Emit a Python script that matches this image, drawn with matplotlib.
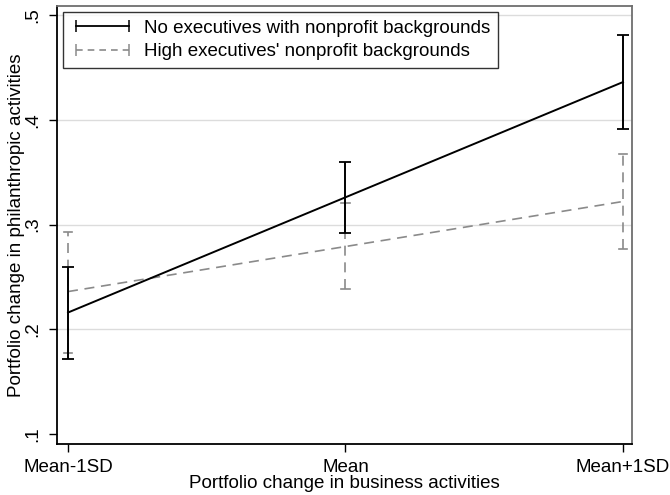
import numpy as np
import matplotlib
matplotlib.use('Agg')
import matplotlib.pyplot as plt
from matplotlib.lines import Line2D

plt.rcParams['font.family'] = ['Liberation Sans', 'DejaVu Sans']

# x categories
x_labels = ['Mean-1SD', 'Mean', 'Mean+1SD']
x_pos = [0, 1, 2]

# No executives with nonprofit backgrounds
none_mid = [0.216, 0.326, 0.436]
none_lo = [0.172, 0.292, 0.391]
none_hi = [0.259, 0.360, 0.481]

# High executives' nonprofit backgrounds
high_mid = [0.236, 0.279, 0.322]
high_lo = [0.177, 0.238, 0.277]
high_hi = [0.293, 0.321, 0.367]

y_ticks = [0.1, 0.2, 0.3, 0.4, 0.5]
y_tick_labels = ['.1', '.2', '.3', '.4', '.5']

gray = '#8a8a8a'

fig = plt.figure(figsize=(6.7, 4.95), dpi=100)
ax = fig.add_axes([57/670, 51/495, 575/670, 438/495])

# gridlines
for yv in y_ticks[1:]:
    ax.axhline(yv, color='#dcdcdc', lw=1.0, zorder=0)

# dashed series (drawn first, beneath)
ax.plot(x_pos, high_mid, color=gray, lw=1.2, dashes=(6, 4), zorder=2)
for x, lo, hi in zip(x_pos, high_lo, high_hi):
    ax.plot([x, x], [lo, hi], color=gray, lw=1.2, dashes=(6, 4), zorder=2)
    ax.plot([x - 0.016, x + 0.016], [lo, lo], color=gray, lw=1.2, zorder=2)
    ax.plot([x - 0.016, x + 0.016], [hi, hi], color=gray, lw=1.2, zorder=2)

# solid series
ax.plot(x_pos, none_mid, color='black', lw=1.4, zorder=3)
ax.errorbar(x_pos, none_mid, yerr=[np.array(none_mid) - np.array(none_lo),
                                   np.array(none_hi) - np.array(none_mid)],
            fmt='none', ecolor='black', elinewidth=1.4, capsize=4.5, capthick=1.3, zorder=3)

ax.set_xlim(-0.0397, 2.0325)
ax.set_ylim(0.0905, 0.5086)
ax.set_xticks(x_pos)
ax.set_xticklabels(x_labels, fontsize=13.5)
ax.set_yticks(y_ticks)
ax.set_yticklabels(y_tick_labels, fontsize=13.5, rotation=90, va='center')
ax.tick_params(axis='both', direction='out', length=6, width=1, color='black')
ax.tick_params(axis='y', pad=5)
ax.tick_params(axis='x', pad=5)

for s in ['left', 'bottom']:
    ax.spines[s].set_color('black')
    ax.spines[s].set_linewidth(1.3)
for s in ['top', 'right']:
    ax.spines[s].set_color('#6e6e6e')
    ax.spines[s].set_linewidth(1.3)

ax.set_xlabel('Portfolio change in business activities', fontsize=13.5, labelpad=-1)
ax.set_ylabel('Portfolio change in philanthropic activities', fontsize=13.5, labelpad=0)

handles = [
    Line2D([0], [0], color='black', lw=1.3, marker='|', markersize=8, markeredgewidth=1.1),
    Line2D([0], [0], color=gray, lw=1.2, dashes=(4, 3), marker='|', markersize=8,
           markeredgewidth=1.1),
]
leg = ax.legend(handles, ['No executives with nonprofit backgrounds',
                          "High executives' nonprofit backgrounds"],
                loc='upper left', bbox_to_anchor=(0.011, 0.986), numpoints=2,
                fontsize=13.5, frameon=True, fancybox=False, edgecolor='black',
                handlelength=3.4, handletextpad=0.5, borderpad=0.4, labelspacing=0.35,
                borderaxespad=0)
leg.get_frame().set_linewidth(1.0)

fig.savefig('out.png', dpi=100)
